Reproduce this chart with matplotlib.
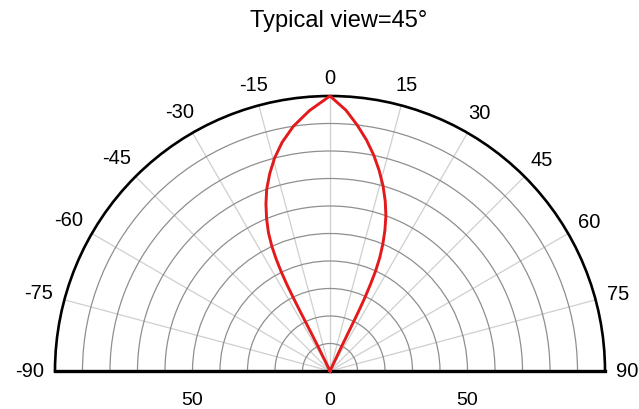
import numpy as np
import matplotlib
matplotlib.use("Agg")
import matplotlib.pyplot as plt

plt.rcParams['font.family'] = ['Liberation Sans', 'DejaVu Sans']

# ---- data ----
title = "Typical view=45°"
angle_ticks = [-90, -75, -60, -45, -30, -15, 0, 15, 30, 45, 60, 75, 90]
angle_minor = [-82.5, -67.5, -52.5, -37.5, -22.5, -7.5, 7.5, 22.5, 37.5, 52.5, 67.5, 82.5]
angle_labels = [str(a) for a in angle_ticks]
radial_grid = [10, 20, 30, 40, 50, 60, 70, 80, 90]
radial_labels = [("50", -90, 50), ("0", 0, 0), ("50", 90, 50)]

# relative intensity curve, traced from origin (left side) over the top to origin (right side)
curve_theta = [-25.5, -26.0, -26.3, -26.5, -26.6, -26.6, -26.5, -26.2, -25.7, -25.0,
               -24.0, -22.6, -21.0, -19.2, -17.0, -14.6, -11.8, -8.5, -4.5, 0.0,
               3.5, 6.3, 9.0, 11.5, 13.8, 16.0, 18.0, 19.8, 21.3, 22.6,
               23.7, 24.5, 25.0, 25.4, 25.6, 25.6, 25.5, 25.3, 25.0]
curve_r = [0, 10, 15, 20, 25, 30, 35, 40, 45, 50,
           55, 60, 65, 70, 75, 80, 85, 90, 95, 100,
           95, 90, 85, 80, 75, 70, 65, 60, 55, 50,
           45, 40, 35, 30, 25, 20, 15, 10, 0]

W, H = 639, 410
fig = plt.figure(figsize=(W / 100, H / 100), dpi=100)
cx, cy, R = 330, 369.5, 275
# box twice the wedge size, centred on the wedge
bw, bh = 4 * R, 2 * R
bcx, bcy = cx, cy - R / 2 + 2.5
ax = fig.add_axes([(bcx - bw / 2) / W, (H - (bcy + bh / 2)) / H, bw / W, bh / H],
                  projection='polar')
ax.set_theta_zero_location('N')
ax.set_theta_direction(-1)
ax.set_thetamin(-90)
ax.set_thetamax(90)
ax.set_rlim(0, 100)

ax.set_xticks(np.deg2rad(angle_ticks))
ax.set_xticklabels([])
ax.set_xticks(np.deg2rad(angle_minor), minor=True)
ax.tick_params(axis='x', which='major', direction='in', length=8, width=1.3,
               color='black')
ax.tick_params(axis='x', which='minor', direction='in', length=5, width=1.1,
               color='black')
ax.set_yticks(radial_grid)
ax.set_yticklabels([])
ax.xaxis.grid(True, which='major', color='#cfcfcf', linewidth=0.9)
ax.xaxis.grid(False, which='minor')
ax.yaxis.grid(True, color='#8f8f8f', linewidth=0.9)
ax.tick_params(axis='y', length=0)

ax.spines['polar'].set_linewidth(1.9)
ax.spines['polar'].set_color('black')
for s in ('start', 'end'):
    ax.spines[s].set_linewidth(2.4)
    ax.spines[s].set_color('black')

ax.plot(np.deg2rad(curve_theta), curve_r, color='#e31a1c', linewidth=2.1,
        zorder=5, clip_on=False)

# angle labels: text edge kept at a fixed gap outside the rim
fs = 14.5
em = fs * 100 / 72
gap, th = 11, 15
for a, lab in zip(angle_ticks, angle_labels):
    w = em * (0.556 * sum(ch.isdigit() for ch in lab) + 0.333 * lab.count('-'))
    s, c = np.sin(np.deg2rad(a)), np.cos(np.deg2rad(a))
    ext = gap + 0.5 * w * abs(s) + 0.5 * th * abs(c)
    ax.annotate(lab, xy=(np.deg2rad(a), 100), xycoords='data',
                xytext=(ext * s, ext * c), textcoords='offset pixels',
                ha='center', va='center', fontsize=fs, annotation_clip=False)

for lab, ang, rv in radial_labels:
    ax.annotate(lab, xy=(np.deg2rad(ang), rv), xycoords='data',
                xytext=(0, -29), textcoords='offset pixels',
                ha='center', va='center', fontsize=14, annotation_clip=False)

fig.text(339 / W, 1 - 21 / H, title, ha='center', va='center', fontsize=17)

fig.savefig('out.png', dpi=100)
